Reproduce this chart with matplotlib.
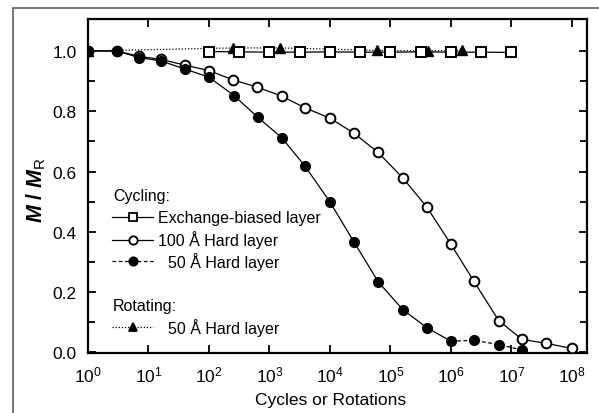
import matplotlib
matplotlib.use("Agg")
import matplotlib.pyplot as plt
from matplotlib.ticker import FixedLocator
from matplotlib.patches import Rectangle

plt.rcParams['font.family'] = ['Liberation Sans', 'DejaVu Sans']
plt.rcParams['mathtext.fontset'] = 'custom'
plt.rcParams['mathtext.rm'] = 'Liberation Sans'
plt.rcParams['mathtext.it'] = 'Liberation Sans:italic:bold'
plt.rcParams['mathtext.bf'] = 'Liberation Sans:bold'

# Cycling: exchange-biased layer
exch_x = [1e2, 10**2.5, 1e3, 10**3.5, 1e4, 10**4.5, 1e5, 10**5.5, 1e6, 10**6.5, 1e7]
exch_y = [0.998, 0.997, 0.996, 0.996, 0.997, 0.996, 0.996, 0.997, 0.996, 0.996, 0.995]

# Cycling: 100 A hard layer
hard100_x = [1, 3, 7, 16, 40, 1e2, 250, 630, 1.6e3, 3.9e3, 1e4, 2.5e4, 6.2e4, 1.6e5, 4e5,
             1e6, 2.4e6, 6.2e6, 1.5e7, 3.8e7, 1e8]
hard100_y = [1.0, 1.0, 0.982, 0.972, 0.953, 0.935, 0.904, 0.880, 0.850, 0.811, 0.777, 0.727,
             0.664, 0.579, 0.482, 0.359, 0.236, 0.105, 0.043, 0.030, 0.013]

# Cycling: 50 A hard layer
hard50_x = [1, 3, 7, 16, 40, 1e2, 260, 640, 1.6e3, 3.9e3, 1e4, 2.5e4, 6.3e4, 1.6e5, 4e5,
            1e6, 2.4e6, 6.2e6, 1.5e7]
hard50_y = [1.0, 1.0, 0.978, 0.967, 0.940, 0.913, 0.852, 0.780, 0.712, 0.617, 0.499, 0.366,
            0.234, 0.142, 0.082, 0.037, 0.040, 0.026, 0.008]

# Rotating: 50 A hard layer
rot_x = [1, 250, 1.5e3, 6e4, 4.2e5, 1.5e6]
rot_y = [1.0, 1.01, 1.01, 1.002, 1.0, 1.003]

# Axis ticks and labels
x_ticks = [10.0**k for k in range(9)]
y_ticks = [0.0, 0.2, 0.4, 0.6, 0.8, 1.0]
y_tick_labels = ['0.0', '0.2', '0.4', '0.6', '0.8', '1.0']
y_minor = [0.1, 0.3, 0.5, 0.7, 0.9]

fig = plt.figure(figsize=(5.99, 4.14), dpi=100)
ax = fig.add_axes([88/599, 1-354/414, (587-88)/599, (354-20)/414])

lw = 0.9
ax.plot(rot_x, rot_y, ls=(0, (1, 1.5)), color='black', lw=lw, marker='^', ms=6.5,
        mfc='black', mec='black', zorder=3)
ax.plot(exch_x, exch_y, ls='-', color='black', lw=lw, marker='s', ms=6.5,
        mfc='white', mec='black', mew=1.4, zorder=4)
ax.plot(hard100_x, hard100_y, ls='-', color='black', lw=lw, marker='o', ms=7,
        mfc='white', mec='black', mew=1.4, zorder=4)
# 50 A curve: solid to 1e6, dashed tail beyond
n_solid = hard50_x.index(1e6) + 1
ax.plot(hard50_x[:n_solid], hard50_y[:n_solid], ls='-', color='black', lw=lw, zorder=5)
ax.plot(hard50_x[n_solid-1:], hard50_y[n_solid-1:], ls=(0, (3, 2)), color='black', lw=lw, zorder=5)
ax.plot(hard50_x, hard50_y, ls='none', marker='o', ms=7, mfc='black', mec='black', zorder=6)

ax.set_xscale('log')
ax.set_xlim(1, 10**8.25)
ax.set_ylim(-0.002, 1.106)

ax.xaxis.set_major_locator(FixedLocator(x_ticks))
ax.xaxis.set_minor_locator(FixedLocator([]))
ax.yaxis.set_major_locator(FixedLocator(y_ticks))
ax.yaxis.set_minor_locator(FixedLocator(y_minor))
ax.set_yticklabels(y_tick_labels)

ax.tick_params(which='both', direction='in', top=True, right=True, labelsize=12.5,
               width=1.3, colors='black')
ax.tick_params(which='major', length=6, pad=8)
ax.tick_params(which='minor', length=5)
for s in ax.spines.values():
    s.set_linewidth(1.6)

ax.set_xlabel('Cycles or Rotations', fontsize=12.5)
ax.xaxis.set_label_coords((331 - 88) / (587 - 88), (354 - 401) / (354 - 20), transform=ax.transAxes)
ax.xaxis.label.set_va('center')
ax.set_ylabel(r'$M$ / $M_{\mathrm{R}}$', fontsize=15.5, fontweight='bold')
ax.yaxis.set_label_coords((36 - 88) / (587 - 88), (354 - 190) / (354 - 20), transform=ax.transAxes)
ax.yaxis.label.set_va('center')

# Legend drawn as a block of sample lines and labels in axes coordinates
tr = ax.transAxes
def ax_xy(px, py):
    return ((px - 88) / (587 - 88), (354 - py) / (354 - 20))

def sample(py, style, marker, mfc, label, lx):
    x0, y0 = ax_xy(112, py)
    x1, _ = ax_xy(153, py)
    xm, _ = ax_xy(133, py)
    ax.plot([x0, x1], [y0, y0], transform=tr, color='black', lw=lw, ls=style, clip_on=False)
    ax.plot([xm], [y0], transform=tr, marker=marker, ms=6, mfc=mfc, mec='black',
            mew=1.3, color='black', clip_on=False)
    tx, _ = ax_xy(lx, py)
    ax.text(tx, y0, label, transform=tr, fontsize=11.5, va='center', ha='left')

hx, hy = ax_xy(113, 197)
ax.text(hx, hy, 'Cycling:', transform=tr, fontsize=11.5, va='center', ha='left')
sample(218, '-', 's', 'white', 'Exchange-biased layer', 158)
sample(240.5, '-', 'o', 'white', '100 Å Hard layer', 158)
sample(262, (0, (3, 2)), 'o', 'black', '50 Å Hard layer', 168)
hx, hy = ax_xy(113, 307)
ax.text(hx, hy, 'Rotating:', transform=tr, fontsize=11.5, va='center', ha='left')
sample(328, (0, (1, 1.5)), '^', 'black', '50 Å Hard layer', 168)

# Outer frame around the figure
fig.patches.append(Rectangle((13/599, -0.05), 1.0, 1 - 9/414 + 0.05, transform=fig.transFigure,
                             fill=False, edgecolor='#6a6a6a', lw=1.3))

fig.savefig('out.png', dpi=100)
